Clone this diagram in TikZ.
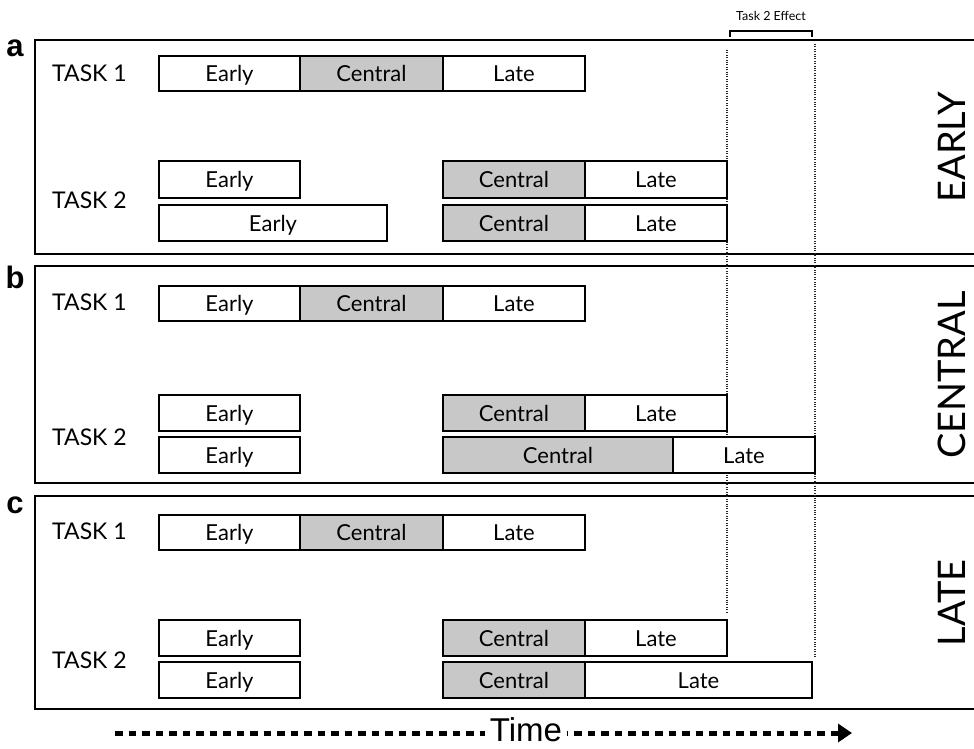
\documentclass[tikz,border=0pt]{standalone}
\usepackage{fontspec}
\setmainfont{Lato}
\newfontfamily\arialfont{Liberation Sans}
\usetikzlibrary{arrows.meta}
\definecolor{stageGray}{HTML}{C8C8C8}
\newcommand\mkcell[7]{\node[cell,#6,minimum width={(#4-#2)*1pt},minimum height={(#5-#3)*1pt}] (#1) at ({(#2+#4)/2},{(#3+#5)/2}) {#7};}
\tikzset{
  cell/.style={draw, line width=1.7pt, inner sep=0pt, font=\fontsize{22}{22}\selectfont, text height=16pt, text depth=0pt},
  whitecell/.style={fill=white},
  graycell/.style={fill=stageGray},
  panel/.style={line width=1.9pt},
  tasklbl/.style={font=\fontsize{23}{23}\selectfont, inner sep=0pt, anchor=west, text height=16.5pt, text depth=0pt},
  panellbl/.style={font=\arialfont\bfseries\fontsize{31}{31}\selectfont, inner sep=0pt},
  sidelbl/.style={font=\fontsize{38}{38}\selectfont, rotate=90, inner sep=0pt, anchor=base, text height=28pt, text depth=0pt},
  effectline/.style={line width=1.1pt, black!85, dash pattern=on 1pt off 1.4pt},
  bracket/.style={line width=2.4pt},
  timeline/.style={line width=5pt, dash pattern=on 7.5pt off 6pt, -{Triangle[length=14pt,width=18pt]}},
  timelbl/.style={font=\arialfont\fontsize{33}{33}\selectfont, fill=white, inner xsep=5pt, inner ysep=0.5pt, text height=24pt, text depth=0pt, anchor=base}
}
\begin{document}
\begin{tikzpicture}[x=1pt,y=-1pt]
\useasboundingbox (0,0) rectangle (974,749);
% panels
\draw[panel] (974,40) -- (35,40) -- (35,254) -- (974,254);
\draw[panel] (974,266) -- (35,266) -- (35,483) -- (974,483);
\draw[panel] (974,496) -- (35,496) -- (35,709) -- (974,709);
\node[panellbl] (la) at (15,48) {a};
\node[panellbl] (lb) at (15,277) {b};
\node[panellbl] (lc) at (15,505) {c};
% dotted effect lines
\coordinate (d1t) at (727,50);
\coordinate (d1b) at (727,612);
\coordinate (d2t) at (815,44);
\coordinate (d2b) at (815,657);
\draw[effectline] (d1t) -- (d1b);
\draw[effectline] (d2t) -- (d2b);
% bracket
\coordinate (b1) at (730,37);
\coordinate (b2) at (730,31);
\coordinate (b3) at (812,31);
\coordinate (b4) at (812,37);
\draw[bracket] (b1) -- (b2) -- (b3) -- (b4);
\node[font=\fontsize{12.5}{12.5}\selectfont, inner sep=0pt] (eff) at (771,16) {Task 2 Effect};
% ---- panel a
\node[tasklbl] (a1) at (52,73) {TASK 1};
\node[tasklbl] (a2) at (52,200) {TASK 2};
\mkcell{aT1e}{159}{56}{300}{91}{whitecell}{Early}
\mkcell{aT1c}{300}{56}{443}{91}{graycell}{Central}
\mkcell{aT1l}{443}{56}{585}{91}{whitecell}{Late}
\mkcell{aR1e}{159}{161}{300}{198}{whitecell}{Early}
\mkcell{aR1c}{443}{161}{585}{198}{graycell}{Central}
\mkcell{aR1l}{585}{161}{727}{198}{whitecell}{Late}
\mkcell{aR2e}{159}{205}{387}{241}{whitecell}{Early}
\mkcell{aR2c}{443}{205}{585}{241}{graycell}{Central}
\mkcell{aR2l}{585}{205}{727}{241}{whitecell}{Late}
\node[sidelbl] (sa) at (965,147) {EARLY};
% ---- panel b
\node[tasklbl] (b1l) at (52,302) {TASK 1};
\node[tasklbl] (b2l) at (52,437) {TASK 2};
\mkcell{bT1e}{159}{286}{300}{321}{whitecell}{Early}
\mkcell{bT1c}{300}{286}{443}{321}{graycell}{Central}
\mkcell{bT1l}{443}{286}{585}{321}{whitecell}{Late}
\mkcell{bR1e}{159}{395}{300}{431}{whitecell}{Early}
\mkcell{bR1c}{443}{395}{585}{431}{graycell}{Central}
\mkcell{bR1l}{585}{395}{727}{431}{whitecell}{Late}
\mkcell{bR2e}{159}{437}{300}{473}{whitecell}{Early}
\mkcell{bR2c}{443}{437}{673}{473}{graycell}{Central}
\mkcell{bR2l}{673}{437}{815}{473}{whitecell}{Late}
\node[sidelbl] (sb) at (965,375) {CENTRAL};
% ---- panel c
\node[tasklbl] (c1l) at (52,531) {TASK 1};
\node[tasklbl] (c2l) at (52,660) {TASK 2};
\mkcell{cT1e}{159}{515}{300}{550}{whitecell}{Early}
\mkcell{cT1c}{300}{515}{443}{550}{graycell}{Central}
\mkcell{cT1l}{443}{515}{585}{550}{whitecell}{Late}
\mkcell{cR1e}{159}{620}{300}{656}{whitecell}{Early}
\mkcell{cR1c}{443}{620}{585}{656}{graycell}{Central}
\mkcell{cR1l}{585}{620}{727}{656}{whitecell}{Late}
\mkcell{cR2e}{159}{662}{300}{698}{whitecell}{Early}
\mkcell{cR2c}{443}{662}{585}{698}{graycell}{Central}
\mkcell{cR2l}{585}{662}{812}{698}{whitecell}{Late}
\node[sidelbl] (sc) at (965,603) {LATE};
% time arrow
\coordinate (t0) at (115,733);
\coordinate (t1) at (852,733);
\draw[timeline] (t0) -- (t1);
\node[timelbl] (time) at (526,741) {Time};
\end{tikzpicture}
\end{document}
